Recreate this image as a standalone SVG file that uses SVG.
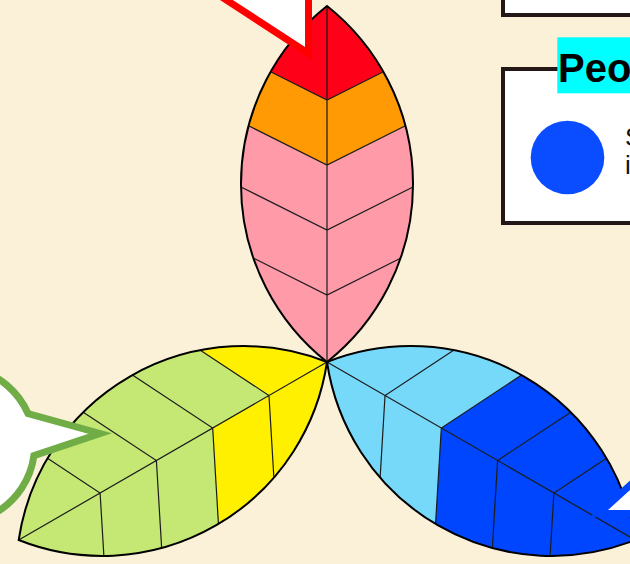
<svg xmlns="http://www.w3.org/2000/svg" width="630" height="564" viewBox="0 0 630 564">
<style>
.seg{stroke:none}
.pink{fill:#FF9BA8}.orange{fill:#FF9A05}.red{fill:#FF0019}
.yellow{fill:#FFF000}.green{fill:#C5E874}
.lblue{fill:#77D9F9}.blue{fill:#0046FF}
.vein{fill:none;stroke:#1a1a1a;stroke-width:1.2}
.outline{fill:none;stroke:#000;stroke-width:2}
.box{fill:#fff;stroke:#231815;stroke-width:4}
.callout{fill:#fff;stroke-width:7;stroke-linejoin:miter}
</style>
<defs>
<path id="r1" d="M0,0 A227.2,227.2 0 0,0 73.5,-103.8 L0,-67 Z"/>
<path id="r2" d="M0,-67 L73.5,-103.8 A227.2,227.2 0 0,0 86,-175 L0,-132 Z"/>
<path id="r3" d="M0,-132 L86,-175 A227.2,227.2 0 0,0 78.4,-236.2 L0,-197 Z"/>
<path id="r4" d="M0,-197 L78.4,-236.2 A227.2,227.2 0 0,0 56.4,-290.2 L0,-262 Z"/>
<path id="r5" d="M0,-262 L56.4,-290.2 A227.2,227.2 0 0,0 0,-356 Z"/>
<path id="veins" d="M0,0 V-356 M-73.5,-103.8 L0,-67 L73.5,-103.8 M-86,-175 L0,-132 L86,-175 M-78.4,-236.2 L0,-197 L78.4,-236.2 M-56.4,-290.2 L0,-262 L56.4,-290.2"/>
<path id="lens" d="M0,0 A227.2,227.2 0 0,0 0,-356 A227.2,227.2 0 0,0 0,0 Z"/>
</defs>
<rect x="0" y="0" width="630" height="564" fill="#FBF1D9"/>

<g id="leaf-left" transform="translate(327,362) rotate(-120)">
<use href="#r1" class="yellow"/><use href="#r2" class="green"/><use href="#r3" class="green"/><use href="#r4" class="green"/><use href="#r5" class="green"/>
<g transform="scale(-1,1)"><use href="#r1" class="yellow"/><use href="#r2" class="yellow"/><use href="#r3" class="green"/><use href="#r4" class="green"/><use href="#r5" class="green"/></g>
<use href="#veins" class="vein"/><use href="#lens" class="outline"/>
</g>

<g id="leaf-right" transform="translate(327,362) rotate(120)">
<use href="#r1" class="lblue"/><use href="#r2" class="lblue"/><use href="#r3" class="blue"/><use href="#r4" class="blue"/><use href="#r5" class="blue"/>
<g transform="scale(-1,1)"><use href="#r1" class="lblue"/><use href="#r2" class="lblue"/><use href="#r3" class="blue"/><use href="#r4" class="blue"/><use href="#r5" class="blue"/></g>
<use href="#veins" class="vein"/><use href="#lens" class="outline"/>
</g>

<g id="leaf-top" transform="translate(327,362)">
<use href="#r1" class="pink"/><use href="#r2" class="pink"/><use href="#r3" class="pink"/><use href="#r4" class="orange"/><use href="#r5" class="red"/>
<g transform="scale(-1,1)"><use href="#r1" class="pink"/><use href="#r2" class="pink"/><use href="#r3" class="pink"/><use href="#r4" class="orange"/><use href="#r5" class="red"/></g>
<use href="#veins" class="vein"/><use href="#lens" class="outline"/>
</g>

<g id="connectors">
<g id="callout-red"><path class="callout" stroke="#FF0000" d="M195.7,-20 L308.5,53.5 L308.5,-20 Z"/></g>
<g id="callout-green"><path class="callout" stroke="#70AD47" d="M33.9,455.7 A78.3,78.3 0 1,1 28,413.5 L100,433.5 Z"/></g>
<g id="callout-blue"><path class="callout" stroke="#0046FF" stroke-width="6" d="M645,471.5 L599,513.5 L645,513.5 Z"/></g>
</g>

<g id="box-top">
<rect class="box" x="503" y="-20" width="160" height="35"/>
</g>

<g id="box-people">
<rect class="box" x="503" y="69" width="160" height="154"/>
<rect x="557.3" y="37.3" width="80" height="56" fill="#00FFFF"/>
<text x="558" y="82" font-family="'Liberation Sans', Arial, sans-serif" font-weight="bold" font-size="40" fill="#000">Peo</text>
<circle cx="567.5" cy="157.5" r="36.8" fill="#0A4CFF"/>
<text font-family="'Liberation Sans', Arial, sans-serif" font-size="26" fill="#111"><tspan x="625" y="146">S</tspan><tspan x="625" y="174">i</tspan></text>
</g>
</svg>
